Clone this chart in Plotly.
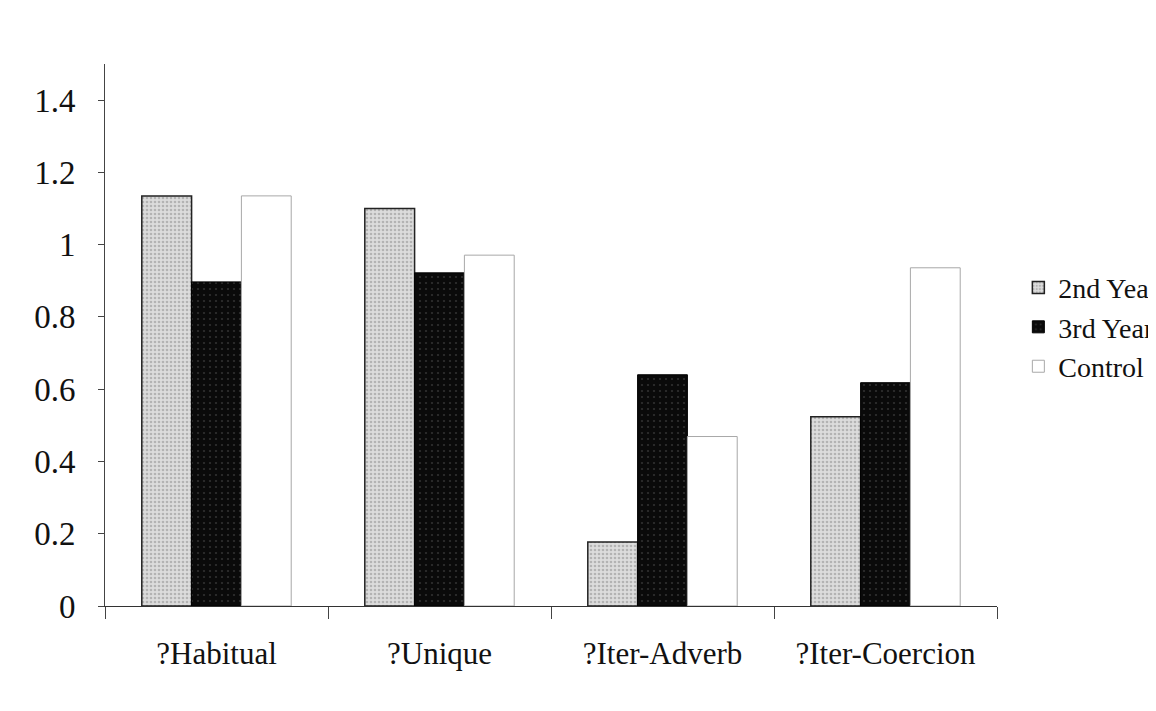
import plotly.graph_objects as go

categories = ["?Habitual", "?Unique", "?Iter-Adverb", "?Iter-Coercion"]
year2 = [1.135, 1.10, 0.177, 0.524]
year3 = [0.897, 0.922, 0.640, 0.618]
control = [1.135, 0.971, 0.469, 0.936]
y_ticks = [0, 0.2, 0.4, 0.6, 0.8, 1, 1.2, 1.4]
y_tick_text = ["0", "0.2", "0.4", "0.6", "0.8", "1", "1.2", "1.4"]

font_family = "Liberation Serif, Times New Roman, serif"

fig = go.Figure()
fig.add_trace(go.Bar(
    name="2nd Year", x=categories, y=year2,
    marker=dict(color="#dcdcdc",
                line=dict(color="#222", width=1.5),
                pattern=dict(shape=".", fgcolor="#8a8a8a", size=4, solidity=0.35)),
))
fig.add_trace(go.Bar(
    name="3rd Year", x=categories, y=year3,
    marker=dict(color="#0a0a0a",
                line=dict(color="#000", width=1),
                pattern=dict(shape=".", fgcolor="#555", size=6, solidity=0.1)),
))
fig.add_trace(go.Bar(
    name="Control", x=categories, y=control,
    marker=dict(color="#ffffff",
                line=dict(color="#a8a8a8", width=1)),
))

fig.update_layout(
    width=1156, height=711,
    paper_bgcolor="white", plot_bgcolor="white",
    margin=dict(l=97, r=167, t=56, b=113),
    barmode="group", bargap=0.33, bargroupgap=0,
    font=dict(family=font_family, color="#111"),
    showlegend=True,
    legend=dict(xref="container", yref="container",
                x=0.874, y=0.551, xanchor="left", yanchor="middle",
                font=dict(size=28, family=font_family, color="#111"),
                bgcolor="rgba(0,0,0,0)", itemwidth=30),
    shapes=[
        dict(type="line", xref="paper", yref="paper", x0=-0.12, x1=1.02, y0=1.11, y1=1.11,
             line=dict(color="#b0b0b0", width=1, dash="dot")),
        dict(type="line", xref="paper", yref="paper", x0=-0.111, x1=-0.111, y0=-0.19, y1=1.11,
             line=dict(color="#b0b0b0", width=1, dash="dot")),
    ],
)
fig.update_yaxes(
    range=[0, 1.5], tickvals=y_ticks, ticktext=y_tick_text,
    showgrid=False, zeroline=False,
    showline=True, linecolor="#444", linewidth=1,
    ticks="outside", ticklen=6, tickcolor="#444",
    ticklabelstandoff=16,
    tickfont=dict(size=33, family=font_family, color="#111"),
)
fig.update_xaxes(
    showgrid=False, showline=True, linecolor="#333", linewidth=1,
    ticks="outside", tickson="boundaries", ticklen=12, tickcolor="#444",
    ticklabelstandoff=20,
    tickfont=dict(size=31, family=font_family, color="#111"),
)

fig.write_html("out.html")
